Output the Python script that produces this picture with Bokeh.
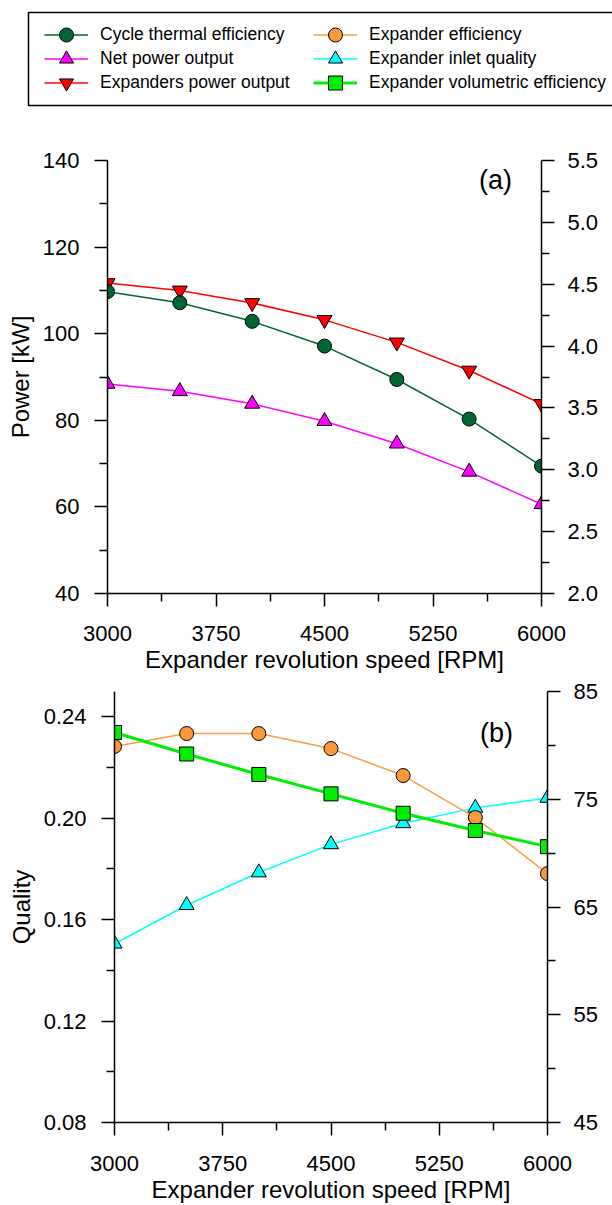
from bokeh.plotting import figure
from bokeh.models import (Range1d, LinearAxis, FixedTicker, PrintfTickFormatter,
                          Legend, LegendItem, Label, ColumnDataSource)
from bokeh.embed import file_html
from bokeh.resources import INLINE

FONT = "Liberation Sans"

# ---------------- data ----------------
rpm = [3000, 3500, 4000, 4500, 5000, 5500, 6000]
# panel (a)
cycle_thermal_eff = [4.44, 4.35, 4.20, 4.00, 3.73, 3.41, 3.03]      # % (right axis)
net_power = [88.4, 86.7, 83.8, 79.8, 74.6, 68.1, 60.6]               # kW
expanders_power = [111.7, 110.0, 107.1, 103.2, 98.0, 91.5, 83.8]     # kW
# panel (b)
expander_eff = [79.9, 81.1, 81.1, 79.7, 77.2, 73.3, 68.1]            # % (right axis)
inlet_quality = [0.1505, 0.1657, 0.1786, 0.1897, 0.1980, 0.2041, 0.2080]
volumetric_eff = [81.2, 79.2, 77.3, 75.5, 73.7, 72.1, 70.6]          # % (right axis)

x_ticks = [3000, 3750, 4500, 5250, 6000]
x_minor = [3375, 4125, 4875, 5625]
a_left_ticks = [40, 60, 80, 100, 120, 140]
a_left_minor = [50, 70, 90, 110, 130]
a_right_ticks = [2.0, 2.5, 3.0, 3.5, 4.0, 4.5, 5.0, 5.5]
a_right_minor = [2.25, 2.75, 3.25, 3.75, 4.25, 4.75, 5.25]
b_left_ticks = [0.08, 0.12, 0.16, 0.20, 0.24]
b_left_minor = [0.10, 0.14, 0.18, 0.22]
b_right_ticks = [45, 55, 65, 75, 85]
b_right_minor = [50, 60, 70, 80]

C_CYCLE = "#006633"
C_NET = "#ff00ff"
C_EXP = "#ff0000"
C_EFF_LINE = "#f7a040"
C_EFF_FILL = "#fa9a3c"
C_QUAL = "#00ffff"
C_VOL = "#00ee00"

src = ColumnDataSource(data=dict(
    rpm=rpm, cycle=cycle_thermal_eff, net=net_power, expp=expanders_power,
    eff=expander_eff, qual=inlet_quality, vol=volumetric_eff))


def style_axis(ax, standoff=14, lab_standoff=7):
    ax.axis_line_width = 1.5
    ax.axis_line_color = "black"
    ax.major_tick_line_width = 1.5
    ax.major_tick_line_color = "black"
    ax.major_tick_out = 13
    ax.major_tick_in = 0
    ax.minor_tick_line_width = 1.5
    ax.minor_tick_line_color = "black"
    ax.minor_tick_out = 8
    ax.minor_tick_in = 0
    ax.major_label_text_font = FONT
    ax.major_label_text_font_size = "22px"
    ax.major_label_text_color = "black"
    ax.major_label_standoff = standoff
    ax.axis_label_text_font = FONT
    ax.axis_label_text_font_size = "24px"
    ax.axis_label_text_font_style = "normal"
    ax.axis_label_text_color = "black"
    ax.axis_label_standoff = lab_standoff


# ---------------- legend strip ----------------
# x/y ranges in screen-pixel units: the data (rpm >= 3000) lies outside, so the
# proxy renderers below only feed the legend swatches.
p0 = figure(width=612, height=120, x_range=Range1d(0, 612), y_range=Range1d(0, 120),
            output_backend="svg", toolbar_location=None,
            x_axis_location=None, y_axis_location=None,
            min_border_left=0, min_border_right=0, min_border_top=0, min_border_bottom=0,
            outline_line_color=None)
p0.grid.visible = False
p0.quad(left=[28], right=[720], bottom=[15], top=[108], fill_color=None,
        line_color="black", line_width=1.5)


def proxy(col, color, fill, marker, lw=1.5):
    l = p0.line("rpm", col, source=src, line_color=color, line_width=lw)
    s = p0.scatter("rpm", col, source=src, marker=marker, size=14,
                   fill_color=fill, line_color="black", line_width=1)
    return [l, s]


entries = [
    ("Cycle thermal efficiency", "cycle", C_CYCLE, C_CYCLE, "circle", 1.5, 0, 0),
    ("Net power output", "net", C_NET, C_NET, "triangle", 1.5, 0, 1),
    ("Expanders power output", "expp", C_EXP, C_EXP, "inverted_triangle", 1.5, 0, 2),
    ("Expander efficiency", "eff", C_EFF_LINE, C_EFF_FILL, "circle", 1.5, 1, 0),
    ("Expander inlet quality", "qual", C_QUAL, C_QUAL, "triangle", 1.5, 1, 1),
    ("Expander volumetric efficiency", "vol", C_VOL, C_VOL, "square", 3, 1, 2),
]
col_x = [44, 313]
row_y = [68, 44, 20]   # bottom of each (35 px tall) legend entry, from the strip bottom

for label, col, lc, fc, mk, lw, ci, ri in entries:
    lg = Legend(items=[LegendItem(label=label, renderers=proxy(col, lc, fc, mk, lw))],
                location=(col_x[ci], row_y[ri]), orientation="vertical")
    lg.margin = 0
    lg.padding = 0
    lg.spacing = 0
    lg.glyph_width = 44
    lg.glyph_height = 35
    lg.label_height = 35
    lg.label_standoff = 12
    lg.label_text_font = FONT
    lg.label_text_font_size = "17.5px"
    lg.label_text_color = "black"
    lg.border_line_color = None
    lg.background_fill_alpha = 0
    p0.add_layout(lg)

# ---------------- panel (a) ----------------
pa = figure(width=612, height=560, x_range=Range1d(3000, 6000), y_range=Range1d(40, 140),
            output_backend="svg", toolbar_location=None,
            min_border_left=107, min_border_right=71, min_border_top=40, min_border_bottom=87,
            outline_line_color=None)
pa.grid.visible = False
pa.extra_y_ranges = {"eff": Range1d(2.0, 5.5)}
pa.add_layout(LinearAxis(y_range_name="eff"), "right")

pa.xaxis.ticker = FixedTicker(ticks=x_ticks, minor_ticks=x_minor)
pa.xaxis.axis_label = "Expander revolution speed [RPM]"
pa.yaxis[0].ticker = FixedTicker(ticks=a_left_ticks, minor_ticks=a_left_minor)
pa.yaxis[0].axis_label = "Power [kW]"
pa.yaxis[1].ticker = FixedTicker(ticks=a_right_ticks, minor_ticks=a_right_minor)
pa.yaxis[1].formatter = PrintfTickFormatter(format="%.1f")
for ax in pa.yaxis:
    style_axis(ax, standoff=15, lab_standoff=6)
style_axis(pa.xaxis[0], standoff=19, lab_standoff=2)
pa.yaxis[1].major_label_standoff = 13

pa.line("rpm", "expp", source=src, line_color=C_EXP, line_width=1.5)
pa.scatter("rpm", "expp", source=src, marker="inverted_triangle", size=15,
           fill_color=C_EXP, line_color="black", line_width=1)
pa.line("rpm", "cycle", source=src, line_color=C_CYCLE, line_width=1.5, y_range_name="eff")
pa.scatter("rpm", "cycle", source=src, marker="circle", size=14, y_range_name="eff",
           fill_color=C_CYCLE, line_color="black", line_width=1)
pa.line("rpm", "net", source=src, line_color=C_NET, line_width=1.5)
pa.scatter("rpm", "net", source=src, marker="triangle", size=15,
           fill_color=C_NET, line_color="black", line_width=1)

pa.add_layout(Label(x=5682, y=135.4, text="(a)", text_align="center", text_baseline="middle",
                    text_font=FONT, text_font_size="27px", text_color="black"))

# ---------------- panel (b) ----------------
pb = figure(width=612, height=525, x_range=Range1d(3000, 6000), y_range=Range1d(0.08, 0.25),
            output_backend="svg", toolbar_location=None,
            min_border_left=114, min_border_right=65, min_border_top=11, min_border_bottom=81,
            outline_line_color=None)
pb.grid.visible = False
pb.extra_y_ranges = {"pct": Range1d(45, 85)}
pb.add_layout(LinearAxis(y_range_name="pct"), "right")

pb.xaxis.ticker = FixedTicker(ticks=x_ticks, minor_ticks=x_minor)
pb.xaxis.axis_label = "Expander revolution speed [RPM]"
pb.yaxis[0].ticker = FixedTicker(ticks=b_left_ticks, minor_ticks=b_left_minor)
pb.yaxis[0].formatter = PrintfTickFormatter(format="%.2f")
pb.yaxis[0].axis_label = "Quality"
pb.yaxis[1].ticker = FixedTicker(ticks=b_right_ticks, minor_ticks=b_right_minor)
for ax in pb.yaxis:
    style_axis(ax, standoff=15, lab_standoff=6)
style_axis(pb.xaxis[0], standoff=20, lab_standoff=2)
pb.yaxis[1].major_label_standoff = 13

pb.line("rpm", "qual", source=src, line_color=C_QUAL, line_width=1.5)
pb.scatter("rpm", "qual", source=src, marker="triangle", size=15,
           fill_color=C_QUAL, line_color="black", line_width=1)
pb.line("rpm", "eff", source=src, line_color=C_EFF_LINE, line_width=1.5, y_range_name="pct")
pb.scatter("rpm", "eff", source=src, marker="circle", size=14, y_range_name="pct",
           fill_color=C_EFF_FILL, line_color="black", line_width=1)
pb.line("rpm", "vol", source=src, line_color=C_VOL, line_width=3, y_range_name="pct")
pb.scatter("rpm", "vol", source=src, marker="square", size=14, y_range_name="pct",
           fill_color=C_VOL, line_color="black", line_width=1)

pb.add_layout(Label(x=5647, y=0.2335, text="(b)", text_align="center", text_baseline="middle",
                    text_font=FONT, text_font_size="27px", text_color="black"))

# separate roots: no frame alignment between the three figures
open("out.html", "w").write(file_html([p0, pa, pb], INLINE))
